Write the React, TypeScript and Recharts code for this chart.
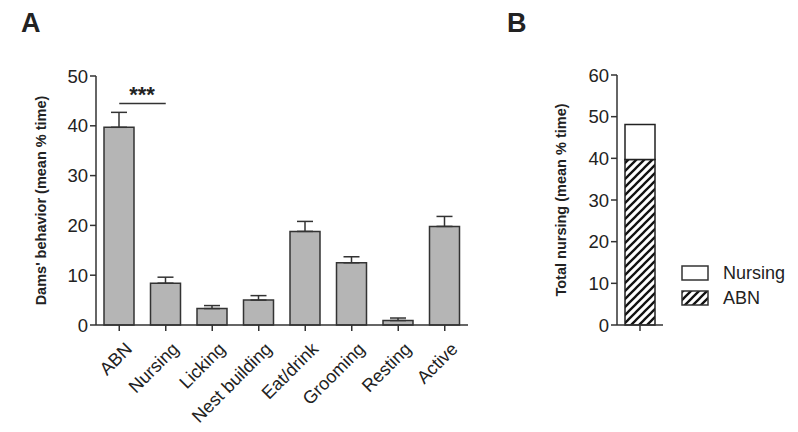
import React from "react";
import {
  BarChart,
  Bar,
  XAxis,
  YAxis,
  ErrorBar,
  ReferenceLine,
  Label,
} from "recharts";

const categories = ["ABN", "Nursing", "Licking", "Nest building", "Eat/drink", "Grooming", "Resting", "Active"];
const meanTime = [39.7, 8.4, 3.3, 5.0, 18.8, 12.5, 0.9, 19.8];
const semTime = [3.0, 1.2, 0.6, 0.9, 2.0, 1.2, 0.5, 2.0];
const yTicksA = [0, 10, 20, 30, 40, 50];

const nursingAbn = [39.7];
const nursingOther = [8.4];
const yTicksB = [0, 10, 20, 30, 40, 50, 60];

const FONT = "'Liberation Sans', Arial, Helvetica, sans-serif";
const AXIS = "#333333";
const TEXT = "#222222";

const behaviorData = categories.map((name, i) => ({
  name,
  mean: meanTime[i],
  err: [0, semTime[i]],
}));

const totalData = [{ name: "", abn: nursingAbn[0], nursing: nursingOther[0] }];

const CategoryTick = (props: any) => {
  const { x, y, payload } = props;
  return (
    <g transform={`translate(${x + 5},${y + 8})`}>
      <text
        transform="rotate(-45)"
        textAnchor="end"
        dominantBaseline="hanging"
        fontSize={18}
        fill={TEXT}
        fontFamily={FONT}
      >
        {payload.value}
      </text>
    </g>
  );
};

const yLabel = (text: string, dx: number) => (props: any) => {
  const { viewBox } = props;
  const cx = viewBox.x + dx;
  const cy = viewBox.y + viewBox.height / 2;
  return (
    <text
      x={cx}
      y={cy}
      transform={`rotate(-90, ${cx}, ${cy})`}
      textAnchor="middle"
      dominantBaseline="central"
      fontSize={14.5}
      fontWeight="bold"
      fill={TEXT}
      fontFamily={FONT}
    >
      {text}
    </text>
  );
};

const hatchDefs = (id: string) => (
  <defs>
    <pattern id={id} patternUnits="userSpaceOnUse" width={8} height={8}>
      <rect width={8} height={8} fill="#ffffff" />
      <path d="M0,8 L8,0 M-2,2 L2,-2 M6,10 L10,6" stroke="#111111" strokeWidth={2.3} />
    </pattern>
  </defs>
);

export default function App() {
  return (
    <div style={{ position: "absolute", left: 0, top: 0, width: 798, height: 432, background: "#fff", fontFamily: FONT }}>
      <div style={{ position: "absolute", left: 21, top: 8, fontSize: 27, fontWeight: "bold", color: TEXT }}>A</div>
      <div style={{ position: "absolute", left: 507, top: 8, fontSize: 27, fontWeight: "bold", color: TEXT }}>B</div>

      <div style={{ position: "absolute", left: 0, top: 0 }}>
        <BarChart
          width={480}
          height={432}
          data={behaviorData}
          margin={{ top: 76, right: 12, bottom: 7, left: 0 }}
        >
          <XAxis
            dataKey="name"
            interval={0}
            height={100}
            tick={<CategoryTick />}
            tickSize={6}
            axisLine={{ stroke: AXIS, strokeWidth: 1.5 }}
            tickLine={{ stroke: AXIS, strokeWidth: 1.5 }}
          />
          <YAxis
            domain={[0, 50]}
            ticks={yTicksA}
            width={96}
            tickSize={6}
            tick={{ fontSize: 18.5, fill: TEXT, fontFamily: FONT }}
            axisLine={{ stroke: AXIS, strokeWidth: 1.5 }}
            tickLine={{ stroke: AXIS, strokeWidth: 1.5 }}
          >
            <Label content={yLabel("Dams' behavior (mean % time)", 41)} />
          </YAxis>
          <Bar dataKey="mean" barSize={30} fill="#b5b5b5" stroke="#333333" strokeWidth={1.5} isAnimationActive={false}>
            <ErrorBar dataKey="err" width={8} stroke="#333333" strokeWidth={1.5} direction="y" />
          </Bar>
          <ReferenceLine
            segment={[
              { x: categories[0], y: 44.5 },
              { x: categories[1], y: 44.5 },
            ]}
            stroke={AXIS}
            strokeWidth={1.5}
          />
        </BarChart>
      </div>
      <div style={{ position: "absolute", left: 124, top: 84, width: 36, textAlign: "center", fontSize: 22, fontWeight: "bold", color: TEXT, lineHeight: "22px" }}>
        ***
      </div>

      <div style={{ position: "absolute", left: 500, top: 0 }}>
        <BarChart
          width={200}
          height={432}
          data={totalData}
          margin={{ top: 75, right: 37, bottom: 7, left: 0 }}
        >
          {hatchDefs("hatchB")}
          <XAxis
            dataKey="name"
            height={100}
            tickSize={6}
            tickFormatter={() => ""}
            axisLine={{ stroke: AXIS, strokeWidth: 1.5 }}
            tickLine={{ stroke: AXIS, strokeWidth: 1.5 }}
          />
          <YAxis
            domain={[0, 60]}
            ticks={yTicksB}
            width={117}
            tickSize={6}
            tick={{ fontSize: 18.5, fill: TEXT, fontFamily: FONT }}
            axisLine={{ stroke: AXIS, strokeWidth: 1.5 }}
            tickLine={{ stroke: AXIS, strokeWidth: 1.5 }}
          >
            <Label content={yLabel("Total nursing (mean % time)", 61)} />
          </YAxis>
          <Bar dataKey="abn" stackId="t" barSize={30} fill="url(#hatchB)" stroke="#222222" strokeWidth={1.5} isAnimationActive={false} />
          <Bar dataKey="nursing" stackId="t" barSize={30} fill="#ffffff" stroke="#222222" strokeWidth={1.5} isAnimationActive={false} />
        </BarChart>
      </div>

      <svg style={{ position: "absolute", left: 676, top: 258 }} width={122} height={56}>
        {hatchDefs("hatchL")}
        <rect x={6} y={8} width={26} height={14} fill="#ffffff" stroke="#333333" strokeWidth={1.5} />
        <rect x={6} y={33} width={26} height={14} fill="url(#hatchL)" stroke="#333333" strokeWidth={1.5} />
        <text x={47} y={21} fontSize={18} fill={TEXT} fontFamily={FONT}>Nursing</text>
        <text x={47} y={46} fontSize={18} fill={TEXT} fontFamily={FONT}>ABN</text>
      </svg>
    </div>
  );
}
